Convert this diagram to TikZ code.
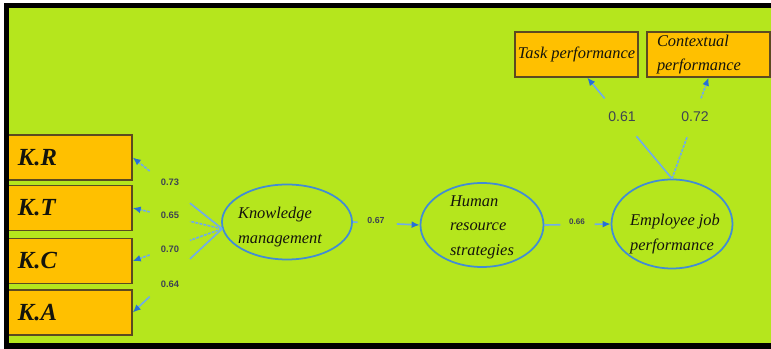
\documentclass[tikz,border=0pt]{standalone}
\usepackage{fontspec}
\setmainfont{Liberation Serif}
\setsansfont{Liberation Sans}
\usepackage{xcolor}
\usepackage{tikz}
\usetikzlibrary{arrows.meta,shapes.geometric}

\definecolor{limegreen}{RGB}{181,230,29}
\definecolor{boxfill}{RGB}{255,192,0}
\definecolor{boxline}{RGB}{92,74,32}
\definecolor{linkblue}{RGB}{112,172,232}
\definecolor{tipblue}{RGB}{38,112,214}
\definecolor{ellblue}{RGB}{66,140,212}
\definecolor{numgray}{RGB}{62,68,82}
\definecolor{textdark}{RGB}{20,20,12}

\begin{document}
\begin{tikzpicture}[x=0.03cm,y=-0.03cm,>={Latex[length=2.4mm,width=2.1mm,color=tipblue]},
    obs node/.style={rectangle,draw=boxline,fill=boxfill,line width=1.2pt,inner sep=0pt,text=textdark},
    ind node/.style={obs node,minimum width=3.81cm,minimum height=1.35cm,text width=3.03cm,align=left,font=\bfseries\itshape\fontsize{21}{21}\selectfont},
    out node/.style={obs node,minimum width=3.69cm,minimum height=1.35cm,align=left,font=\itshape\fontsize{14}{20}\selectfont},
    latent/.style={ellipse,draw=ellblue,line width=1.5pt,inner sep=0pt},
    lat text/.style={align=left,text=textdark,font=\itshape\fontsize{14}{21}\selectfont},
    link/.style={draw=linkblue,line width=1.4pt},
    dashed link/.style={dash pattern=on 2.5pt off 1pt},
    coef/.style={inner sep=1pt,text=numgray,font=\sffamily\bfseries\fontsize{#1}{#1}\selectfont},
    coef/.default=8]

    % background
    \fill[white] (0,0) rectangle (771,349);
    \fill[limegreen] (9,8) rectangle (771,343);

    % indicators of knowledge management
    \node[ind node] (kr) at (68.5,157.5) {K.R};
    \node[ind node] (kt) at (68.5,208) {K.T};
    \node[ind node] (kc) at (68.5,261) {K.C};
    \node[ind node] (ka) at (68.5,312.5) {K.A};

    % indicators of job performance
    \node[out node] (task) at (576.5,54.5) {Task performance};
    \node[out node,text width=3.09cm] (ctx) at (708.5,54.5) {Contextual\\performance};

    % latent variables
    \node[latent,minimum width=3.9cm,minimum height=2.25cm] (km) at (287,222) {};
    \node[latent,minimum width=3.69cm,minimum height=2.52cm] (hrs) at (482,225) {};
    \node[latent,minimum width=3.63cm,minimum height=2.67cm] (ejp) at (672,224) {};
    \node[lat text] (kmtext) at (280,227) {Knowledge\\management};
    \node[lat text] (hrstext) at (482,227) {Human\\resource\\strategies};
    \node[lat text] (ejptext) at (675,234) {Employee job\\performance};

    % loadings
    \node[coef] (lkr) at (170,182) {0.73};
    \node[coef] (lkt) at (170,215) {0.65};
    \node[coef] (lkc) at (170,249) {0.70};
    \node[coef] (lka) at (170,284) {0.64};
    \node[coef=7.5] (lhrs) at (376,220) {0.67};
    \node[coef=6.9] (lejp) at (577,222) {0.66};
    \node[coef=12,font=\sffamily\fontsize{12}{12}\selectfont] (ltask) at (622,117) {0.61};
    \node[coef=12,font=\sffamily\fontsize{12}{12}\selectfont] (lctx) at (695,117) {0.72};

    % broken paths
    \path (km.186) -- coordinate[pos=.36] (kr1) coordinate[pos=.81] (kr2) (kr.east);
    \path (km.186) -- coordinate[pos=.36] (kt1) coordinate[pos=.81] (kt2) (kt.east);
    \path (km.186) -- coordinate[pos=.36] (kc1) coordinate[pos=.81] (kc2) (kc.east);
    \path (km.186) -- coordinate[pos=.36] (ka1) coordinate[pos=.81] (ka2) (ka.east);
    \path (km.east) -- coordinate[pos=.07] (km1) coordinate[pos=.66] (km2) (hrs.west);
    \path (hrs.east) -- coordinate[pos=.24] (hrs1) coordinate[pos=.76] (hrs2) (ejp.west);
    \path (ejp.north) -- coordinate[pos=.42] (ta1) coordinate[pos=.795] (ta2) (task.-65);
    \path (ejp.north) -- coordinate[pos=.42] (ct1) coordinate[pos=.795] (ct2) (ctx.south);

    \draw[link] (km.186) -- (kr1);
    \draw[link,dashed link,->] (kr2) -- (kr.east);
    \draw[link,dashed link] (km.186) -- (kt1);
    \draw[link,dashed link,->] (kt2) -- (kt.east);
    \draw[link,dashed link] (km.186) -- (kc1);
    \draw[link,dashed link,->] (kc2) -- (kc.east);
    \draw[link] (km.186) -- (ka1);
    \draw[link,->] (ka2) -- (ka.east);

    \draw[link] (km.east) -- (km1);
    \draw[link,->] (km2) -- (hrs.west);
    \draw[link] (hrs.east) -- (hrs1);
    \draw[link,->] (hrs2) -- (ejp.west);

    \draw[link] (ejp.north) -- (ta1);
    \draw[link,->] (ta2) -- (task.-65);
    \draw[link,dashed link] (ejp.north) -- (ct1);
    \draw[link,dashed link,->] (ct2) -- (ctx.south);

    % frame
    \fill[black] (4,3) rectangle (771,8);
    \fill[black] (4,3) rectangle (9,349);
    \fill[black] (4,343) rectangle (771,349);
\end{tikzpicture}
\end{document}
